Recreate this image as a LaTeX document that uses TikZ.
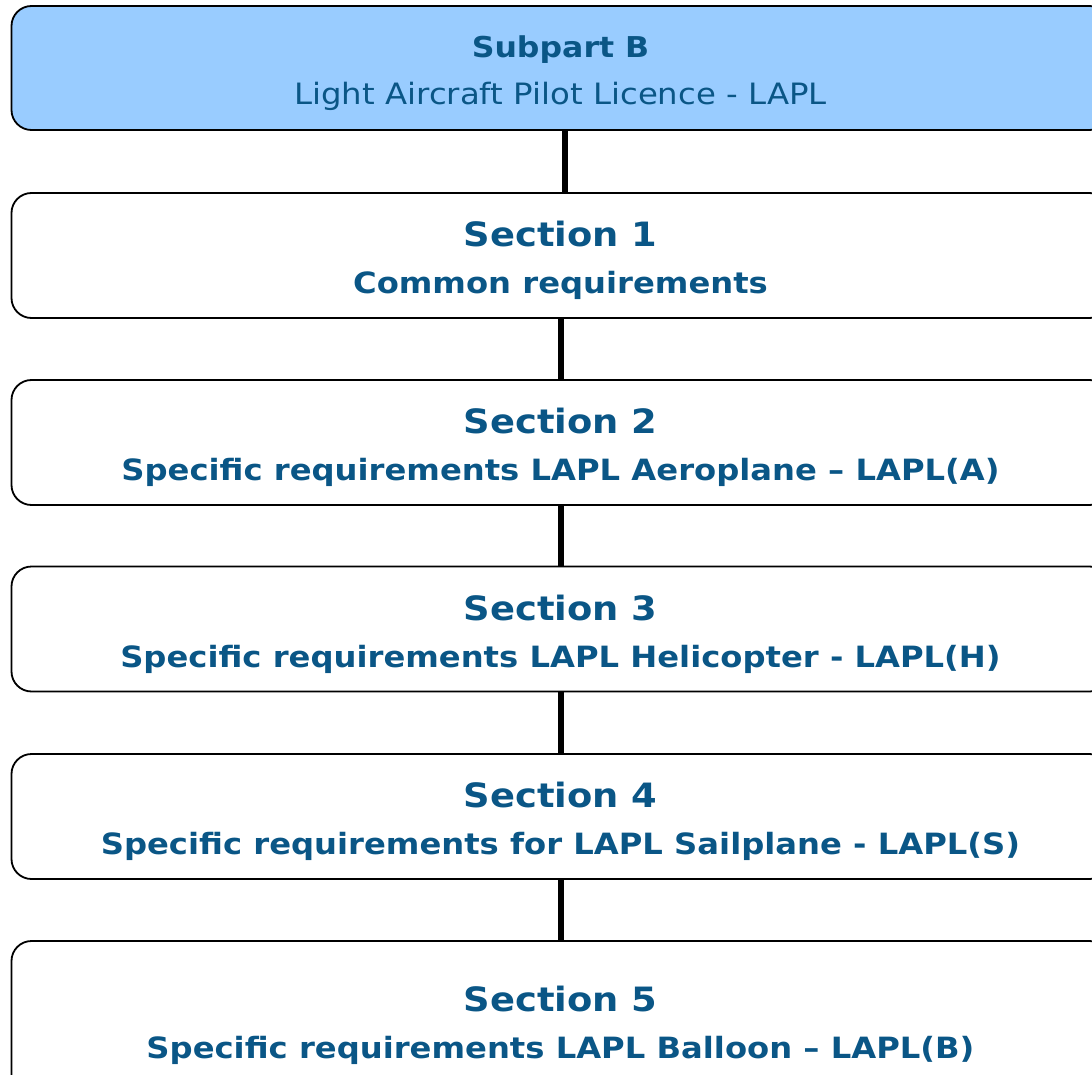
\documentclass[tikz,border=0pt]{standalone}
\usepackage{fontspec}
\setmainfont{DejaVu Sans}[FakeStretch=1.1]
\usetikzlibrary{positioning}
\definecolor{partfill}{HTML}{99CCFF}
\definecolor{parttext}{HTML}{0A5686}
\newcommand{\headfont}{\fontsize{33.5}{40}\selectfont\bfseries}
\newcommand{\subfont}{\fontsize{29.3}{35}\selectfont\bfseries}
\newcommand{\twolines}[2]{\raisebox{0pt}[\dimexpr\height+10pt][0pt]{#1}\\\rule{0pt}{46pt}#2}

\begin{document}
\begin{tikzpicture}[x=1pt, y=-1pt, line cap=round, line join=round]
	\tikzset{
		partbox/.style={draw=black, line width=1.8pt, rounded corners=20pt,
			minimum width=1098pt, minimum height=125pt, align=center,
			text=parttext, inner sep=0pt},
		link/.style={line width=6pt, black, line cap=butt}
	}
	\useasboundingbox (0,0) rectangle (1092,1075);
	
	% ===== Subpart header =====
	\node[partbox, fill=partfill, minimum height=124pt] (subB) at (560.5,68)
	{\twolines{\fontsize{28.7}{35}\selectfont\bfseries Subpart B}
		{\fontsize{29.4}{35}\selectfont Light Aircraft Pilot Licence - LAPL}};
	
	% ===== Sections =====
	\node[partbox] (sec1) at (560.5,255.5)
	{\twolines{\headfont Section 1}{\subfont Common requirements}};
	\node[partbox] (sec2) at (560.5,442.5)
	{\twolines{\headfont Section 2}{\subfont Specific requirements LAPL Aeroplane – LAPL(A)}};
	\node[partbox] (sec3) at (560.5,629)
	{\twolines{\headfont Section 3}{\subfont Specific requirements LAPL Helicopter - LAPL(H)}};
	\node[partbox] (sec4) at (560.5,816.5)
	{\twolines{\headfont Section 4}{\subfont Specific requirements for LAPL Sailplane - LAPL(S)}};
	\node[partbox, minimum height=158pt] (sec5) at (560.5,1020)
	{\twolines{\headfont Section 5}{\subfont Specific requirements LAPL Balloon – LAPL(B)}};
	
	% ===== Links =====
	\draw[link] ([xshift=4.5pt]subB.south) -- ([xshift=4.5pt]sec1.north);
	\draw[link] (sec1) -- (sec2);
	\draw[link] (sec2) -- (sec3);
	\draw[link] (sec3) -- (sec4);
	\draw[link] (sec4) -- (sec5);
\end{tikzpicture}
\end{document}
